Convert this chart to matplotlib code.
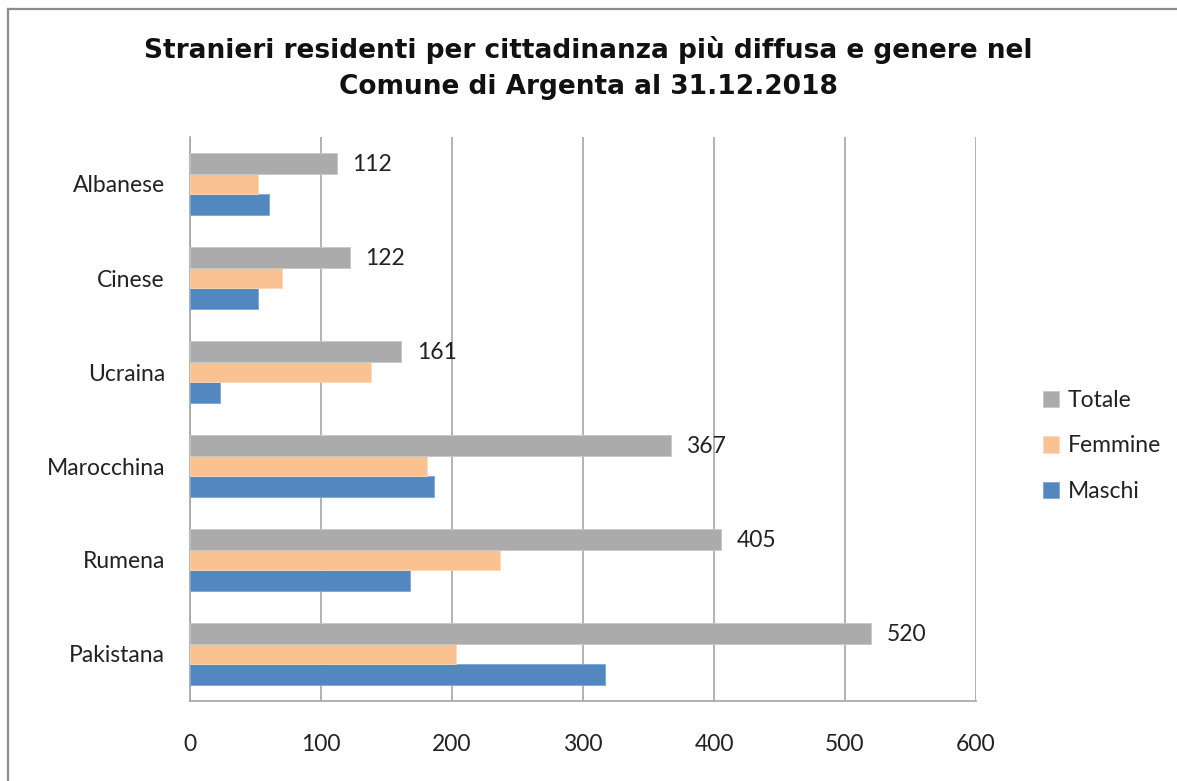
import matplotlib
matplotlib.use("Agg")
import matplotlib.pyplot as plt
from matplotlib.lines import Line2D
import numpy as np

categories = ["Pakistana", "Rumena", "Marocchina", "Ucraina", "Cinese", "Albanese"]
maschi = [317, 168, 186, 23, 52, 60]
femmine = [203, 237, 181, 138, 70, 52]
totale = [520, 405, 367, 161, 122, 112]
xticks = [0, 100, 200, 300, 400, 500, 600]

c_tot = "#ABABAB"
c_fem = "#FAC291"
c_mas = "#5287C0"
grid_c = "#A6A6A6"
label_font = ["Lato", "DejaVu Sans"]

fig = plt.figure(figsize=(11.77, 7.81), dpi=100)
# outer frame (top and left edges only visible)
fx = 7.5 / 1177
fy = 1 - 9 / 781
fig.lines.append(Line2D([fx, fx], [0, fy], transform=fig.transFigure, color="#8C8C8C", linewidth=1.6))
fig.lines.append(Line2D([fx, 1], [fy, fy], transform=fig.transFigure, color="#8C8C8C", linewidth=1.6))

ax = fig.add_axes([190/1177, 1 - 701/781, 786/1177, 564/781])
y = np.arange(len(categories))
h = 0.222
ax.barh(y - h, maschi, height=h, color=c_mas, edgecolor="#7FA6D4", linewidth=0.6, label="Maschi", zorder=3)
ax.barh(y, femmine, height=h, color=c_fem, edgecolor="#FCD9B8", linewidth=0.6, label="Femmine", zorder=3)
ax.barh(y + h, totale, height=h, color=c_tot, edgecolor="#C8C8C8", linewidth=0.6, label="Totale", zorder=3)

for yi, v in zip(y, totale):
    ax.text(v + 12, yi + h - 0.01, str(v), va="center", ha="left",
            fontsize=16.5, family=label_font, color="#222222", zorder=4)

ax.set_xlim(0, 600)
ax.set_ylim(-0.5, len(categories) - 0.5)
ax.set_xticks(xticks)
ax.set_xticklabels([str(t) for t in xticks], fontsize=16.5, family=label_font, color="#222222")
ax.set_yticks(y)
ax.set_yticklabels(categories, fontsize=16.5, family=label_font, color="#222222")
ax.tick_params(axis="both", length=0)
ax.tick_params(axis="x", pad=24)
ax.tick_params(axis="y", pad=18)
ax.grid(axis="x", color=grid_c, linewidth=1.2, zorder=0)
ax.set_axisbelow(True)
for s in ["top", "right"]:
    ax.spines[s].set_visible(False)
for s in ["left", "bottom"]:
    ax.spines[s].set_color(grid_c)
    ax.spines[s].set_linewidth(1.2)

handles, labels = ax.get_legend_handles_labels()
leg = fig.legend(handles[::-1], labels[::-1], loc="center left",
                 bbox_to_anchor=(1022/1177, 1 - 446/781), frameon=False,
                 prop={"family": label_font, "size": 16.5},
                 handlelength=0.7, handleheight=0.7, handletextpad=0.4,
                 labelspacing=1.05)
for t in leg.get_texts():
    t.set_color("#222222")

fig.text(0.5, 1 - 68/781, "Stranieri residenti per cittadinanza più diffusa e genere nel\nComune di Argenta al 31.12.2018",
         ha="center", va="center", fontsize=19, fontweight="bold",
         family=["DejaVu Sans"], linespacing=1.45, color="#111111")

fig.savefig("out.png", dpi=100, facecolor="white")
